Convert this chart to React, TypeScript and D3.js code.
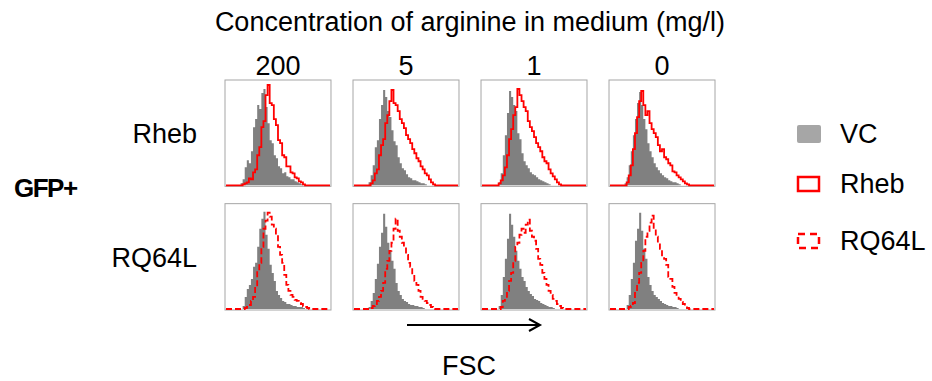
import React from "react";
import * as d3 from "d3";

const concentrations = ["200", "5", "1", "0"];
const rowLabels = ["Rheb", "RQ64L"];
const legendLabels = ["VC", "Rheb", "RQ64L"];
const NBINS = 50;

function bins(entries: Record<number, number>): number[] {
  const a = new Array(NBINS).fill(0);
  Object.keys(entries).forEach((k) => (a[+k] = entries[+k]));
  return a;
}

// VC (grey) histograms, row Rheb
const vcRheb = [
  bins({7:2,8:6,9:18,10:25,11:22,12:34,13:58,14:66,15:80,16:76,17:92,18:96,19:78,20:62,21:45,22:42,23:30,24:27,25:19,26:17,27:12,28:13,29:9,30:8,31:6,32:6,33:4,34:3,35:2,36:1}),
  bins({7:3,8:10,9:20,10:38,11:45,12:66,13:80,14:95,15:88,16:74,17:68,18:55,19:44,20:40,21:28,22:22,23:17,24:15,25:11,26:8,27:7,28:5,29:5,30:4,31:3,32:2,33:2,34:1}),
  bins({8:3,9:12,10:30,11:50,12:72,13:94,14:88,15:80,16:74,17:52,18:46,19:32,20:24,21:20,22:17,23:13,24:11,25:10,26:8,27:6,28:5,29:4,30:3,31:2,32:1}),
  bins({7:2,8:8,9:20,10:34,11:50,12:66,13:82,14:93,15:80,16:66,17:56,18:42,19:34,20:28,21:22,22:18,23:15,24:12,25:10,26:8,27:7,28:5,29:4,30:3,31:3,32:2,33:1}),
];
// Rheb (red solid) histograms
const rheb = [
  bins({8:1,9:2,10:3,11:7,12:6,13:13,14:16,15:30,16:38,17:58,18:64,19:90,20:100,21:82,22:80,23:66,24:60,25:45,26:42,27:30,28:28,29:19,30:19,31:13,32:12,33:8,34:7,35:4,36:3,37:1}),
  bins({8:2,9:5,10:12,11:16,12:30,13:40,14:46,15:62,16:70,17:84,18:95,19:82,20:80,21:74,22:66,23:62,24:57,25:50,26:46,27:42,28:36,29:32,30:27,31:24,32:19,33:16,34:12,35:10,36:6,37:3,38:1}),
  bins({8:2,9:5,10:10,11:18,12:30,13:46,14:56,15:70,16:78,17:96,18:90,19:84,20:78,21:74,22:64,23:58,24:54,25:48,26:42,27:38,28:34,29:28,30:24,31:22,32:16,33:12,34:9,35:6,36:3,37:1}),
  bins({8:3,9:10,10:20,11:36,12:52,13:68,14:84,15:94,16:80,17:70,18:74,19:62,20:56,21:52,22:48,23:40,24:34,25:36,26:28,27:26,28:22,29:20,30:14,31:13,32:10,33:8,34:6,35:4,36:2,37:1}),
];
// VC (grey) histograms, row RQ64L
const vcRQ = [
  bins({8:3,9:12,10:20,11:24,12:30,13:42,14:46,15:62,16:80,17:90,18:97,19:74,20:60,21:44,22:36,23:28,24:18,25:14,26:11,27:8,28:7,29:5,30:5,31:4,32:3,33:3,34:2,35:2,36:2,37:1}),
  bins({7:2,8:8,9:16,10:30,11:45,12:62,13:76,14:95,15:82,16:66,17:58,18:48,19:40,20:26,21:18,22:14,23:10,24:8,25:7,26:5,27:4,28:4,29:3,30:3,31:2,32:2,33:1}),
  bins({8:3,9:14,10:32,11:50,12:70,13:95,14:84,15:72,16:58,17:48,18:40,19:32,20:28,21:22,22:18,23:15,24:13,25:10,26:9,27:8,28:6,29:5,30:4,31:3,32:2,33:2,34:1}),
  bins({8:4,9:14,10:30,11:46,12:68,13:80,14:96,15:78,16:60,17:50,18:32,19:24,20:18,21:14,22:12,23:10,24:8,25:6,26:5,27:4,28:3,29:3,30:2,31:2,32:1}),
];
// RQ64L (red dashed) histograms
const rq64l = [
  bins({9:1,10:2,11:4,12:8,13:12,14:22,15:38,16:46,17:62,18:80,19:88,20:96,21:92,22:84,23:80,24:74,25:62,26:54,27:46,28:34,29:24,30:18,31:14,32:12,33:9,34:8,35:6,36:5,37:3,38:2,39:1}),
  bins({8:1,9:3,10:5,11:8,12:12,13:18,14:26,15:40,16:48,17:58,18:66,19:80,20:90,21:78,22:72,23:66,24:62,25:54,26:46,27:42,28:34,29:28,30:24,31:18,32:12,33:10,34:8,35:6,36:4,37:2,38:1}),
  bins({9:2,10:8,11:12,12:18,13:28,14:36,15:48,16:62,17:66,18:74,19:80,20:76,21:84,22:89,23:78,24:72,25:68,26:60,27:50,28:44,29:36,30:30,31:24,32:18,33:14,34:10,35:8,36:5,37:3,38:1}),
  bins({9:2,10:3,11:6,12:16,13:26,14:36,15:46,16:58,17:72,18:78,19:86,20:93,21:80,22:72,23:66,24:60,25:52,26:50,27:44,28:32,29:30,30:22,31:16,32:14,33:10,34:7,35:5,36:3,37:1}),
];

const FONT = "'Liberation Sans', Arial, sans-serif";
const RED = "#ff0000";
const GREY = "#808080";

const colX = d3.scaleBand<number>().domain([0, 1, 2, 3]).range([225, 715]).paddingInner(0.172).paddingOuter(0);
const rowY = d3.scaleBand<number>().domain([0, 1]).range([80, 310]).paddingInner(0.14).paddingOuter(0);

function Panel({ c, r }: { c: number; r: number }) {
  const x0 = colX(c)!;
  const y0 = rowY(r)!;
  const w = colX.bandwidth();
  const h = rowY.bandwidth();
  const x = d3.scaleLinear().domain([0, NBINS]).range([x0 + 1, x0 + w - 1]);
  const y = d3.scaleLinear().domain([0, 100]).range([y0 + h - 1, y0 + 5]);
  const grey = r === 0 ? vcRheb[c] : vcRQ[c];
  const red = r === 0 ? rheb[c] : rq64l[c];
  const pts = (arr: number[]) => [...arr.map((v, i) => [i, v] as [number, number]), [NBINS, arr[NBINS - 1]] as [number, number]];
  const area = d3.area<[number, number]>().x((d) => x(d[0])).y0(y(0)).y1((d) => y(d[1])).curve(d3.curveStepAfter);
  const line = d3.line<[number, number]>().x((d) => x(d[0])).y((d) => y(d[1])).curve(d3.curveStepAfter);
  return (
    <g>
      <rect x={x0} y={y0} width={w} height={h} fill="#fff" stroke="#a6a6a6" strokeWidth={1} />
      <path d={area(pts(grey)) || ""} fill={GREY} />
      <path
        d={line(pts(red)) || ""}
        fill="none"
        stroke={RED}
        strokeWidth={1.8}
        strokeDasharray={r === 1 ? "6,3" : undefined}
      />
    </g>
  );
}

export default function App() {
  const titleCx = (colX(0)! + colX(3)! + colX.bandwidth()) / 2;
  return (
    <svg width={932} height={381} style={{ position: "absolute", left: 0, top: 0, background: "#fff" }} fontFamily={FONT}>
      <text x={titleCx} y={22} textAnchor="middle" dominantBaseline="central" fontSize={27} fill="#000">
        Concentration of arginine in medium (mg/l)
      </text>
      {concentrations.map((t, i) => (
        <text key={t} x={colX(i)! + colX.bandwidth() / 2} y={66} textAnchor="middle" dominantBaseline="central" fontSize={27} fill="#000">
          {t}
        </text>
      ))}
      {rowLabels.map((t, i) => (
        <text key={t} x={197} y={rowY(i)! + rowY.bandwidth() / 2 + 1} textAnchor="end" dominantBaseline="central" fontSize={27} fill="#000">
          {t}
        </text>
      ))}
      <text x={14} y={188} dominantBaseline="central" fontSize={26} fontWeight="bold" letterSpacing={-1.5} fill="#000">
        GFP+
      </text>
      {[0, 1].map((r) => [0, 1, 2, 3].map((c) => <Panel key={`${r}-${c}`} c={c} r={r} />))}
      {/* arrow */}
      <line x1={407} y1={325} x2={540} y2={325} stroke="#000" strokeWidth={2} />
      <polyline points="529,319 540,325 529,331" fill="none" stroke="#000" strokeWidth={2} />
      <text x={469} y={366} textAnchor="middle" dominantBaseline="central" fontSize={27} fill="#000">
        FSC
      </text>
      {/* legend */}
      {legendLabels.map((t, i) => {
        const cy = [134, 184, 241][i];
        return (
          <g key={t}>
            {i === 0 ? (
              <rect x={797} y={cy - 9} width={24} height={18} rx={2} fill="#a6a6a6" />
            ) : (
              <rect
                x={798}
                y={cy - 7}
                width={21}
                height={14}
                fill="none"
                stroke={RED}
                strokeWidth={2.5}
                strokeDasharray={i === 2 ? "7,5" : undefined}
              />
            )}
            <text x={840} y={cy} dominantBaseline="central" fontSize={27} fill="#000">
              {t}
            </text>
          </g>
        );
      })}
    </svg>
  );
}
